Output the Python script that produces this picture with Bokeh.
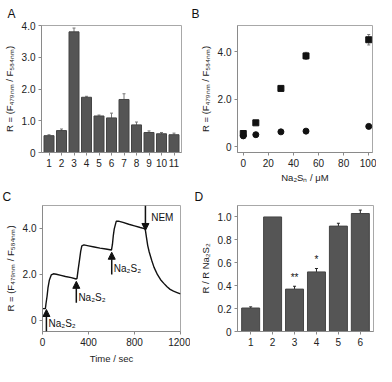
from bokeh.plotting import figure
from bokeh.layouts import row, column
from bokeh.models import (FixedTicker, ColumnDataSource, Whisker, Label, Arrow,
                          NormalHead, TeeHead, Range1d)
from bokeh.embed import file_html
from bokeh.resources import INLINE

FONT = "Liberation Sans"
BAR = "#555555"

# ---------------- data ----------------
# Panel A
a_cats = [1, 2, 3, 4, 5, 6, 7, 8, 9, 10, 11]
a_vals = [0.53, 0.69, 3.80, 1.74, 1.15, 1.09, 1.67, 0.87, 0.63, 0.59, 0.56]
a_errs = [0.03, 0.05, 0.12, 0.03, 0.03, 0.15, 0.18, 0.09, 0.05, 0.04, 0.05]

# Panel B
b_conc = [0, 10, 30, 50, 100]
b_sq = [0.55, 1.00, 2.45, 3.82, 4.50]
b_sq_err = [0.08, 0.05, 0.08, 0.15, 0.22]
b_ci = [0.45, 0.50, 0.62, 0.65, 0.85]

# Panel C
c_time = [0, 25, 30, 40, 48, 60, 76, 95, 120, 160, 200, 250, 293, 300, 310, 322,
          332, 342, 360, 400, 450, 500, 550, 600, 608, 616, 624, 641, 660, 700,
          750, 800, 850, 893, 905, 915, 928, 950, 970, 1000, 1027, 1055, 1083,
          1110, 1139, 1170, 1200]
c_ratio = [0.50, 0.50, 0.70, 1.05, 1.42, 1.75, 1.97, 2.02, 2.00, 1.95, 1.90, 1.85,
           1.79, 1.82, 2.20, 2.63, 3.00, 3.24, 3.28, 3.24, 3.19, 3.14, 3.10, 3.06,
           3.30, 3.70, 3.98, 4.31, 4.32, 4.26, 4.18, 4.11, 4.04, 3.98, 3.58, 3.25,
           2.97, 2.60, 2.30, 1.98, 1.76, 1.60, 1.45, 1.34, 1.26, 1.20, 1.14]
c_add_times = [34, 294, 602]
c_add_labels = ["Na₂S₂", "Na₂S₂", "Na₂S₂"]
c_nem_time = 895
c_nem_label = "NEM"

# Panel D
d_cats = [1, 2, 3, 4, 5, 6]
d_vals = [0.205, 1.00, 0.37, 0.52, 0.92, 1.03]
d_errs = [0.01, 0.0, 0.025, 0.03, 0.025, 0.03]
d_sig = ["", "", "**", "*", "", ""]

R_LABEL = "R = (F₄₇₉ₙₘ / F₅₈₄ₙₘ)"


def style(p, letter, offset, standoff):
    p.toolbar_location = None
    p.xgrid.visible = False
    p.ygrid.visible = False
    p.outline_line_color = "#a8a8a8"
    p.background_fill_color = "white"
    p.border_fill_color = "white"
    p.title.text = letter
    p.title.align = "left"
    p.title.offset = offset
    p.title.standoff = standoff
    p.title.text_font = FONT
    p.title.text_font_size = "12px"
    p.title.text_font_style = "normal"
    p.title.text_color = "#111111"
    for ax in (p.xaxis[0], p.yaxis[0]):
        ax.axis_line_color = "#8a8a8a"
        ax.major_tick_line_color = "#8a8a8a"
        ax.minor_tick_line_color = None
        ax.major_tick_in = 0
        ax.major_tick_out = 3
        ax.major_label_text_font = FONT
        ax.major_label_text_font_size = "10px"
        ax.major_label_text_color = "#222222"
        ax.major_label_standoff = 3
        ax.axis_label_text_font = FONT
        ax.axis_label_text_font_size = "9.5px"
        ax.axis_label_text_font_style = "normal"
        ax.axis_label_text_color = "#222222"
        ax.axis_label_standoff = 4


def err_source(xs, vals, errs):
    keep = [i for i, e in enumerate(errs) if e > 0]
    return ColumnDataSource(dict(x=[xs[i] for i in keep],
                                 lo=[vals[i] - errs[i] for i in keep],
                                 hi=[vals[i] + errs[i] for i in keep]))


def whisker(src, color):
    return Whisker(base="x", lower="lo", upper="hi", source=src, line_color=color,
                   line_width=1,
                   upper_head=TeeHead(size=3, line_color=color),
                   lower_head=TeeHead(size=3, line_color=color))


# ---------------- Panel A ----------------
pA = figure(width=190, height=185, output_backend="svg", toolbar_location=None,
            x_range=Range1d(0.4, 11.6), y_range=Range1d(0, 4.0),
            min_border_left=36, min_border_right=9, min_border_top=24, min_border_bottom=30)
pA.vbar(x=a_cats, top=a_vals, width=0.8, fill_color=BAR, line_color="#444444")
pA.add_layout(whisker(err_source(a_cats, a_vals, a_errs), "#777777"))
style(pA, "A", -34, 9)
pA.xaxis.ticker = FixedTicker(ticks=a_cats)
pA.yaxis.ticker = FixedTicker(ticks=[0, 1, 2, 3, 4])
pA.yaxis.major_label_overrides = {0: "0", 1: "1.0", 2: "2.0", 3: "3.0", 4: "4.0"}
pA.yaxis.axis_label = R_LABEL

# ---------------- Panel B ----------------
pB = figure(width=186, height=185, output_backend="svg", toolbar_location=None,
            x_range=Range1d(-4.6, 103), y_range=Range1d(-0.25, 5.1),
            min_border_left=47, min_border_right=4, min_border_top=24, min_border_bottom=30)
pB.add_layout(whisker(err_source(b_conc, b_sq, b_sq_err), "#777777"))
pB.scatter(x=b_conc, y=b_sq, marker="square", size=6, color="#111111")
pB.scatter(x=b_conc, y=b_ci, marker="circle", size=6, color="#111111")
style(pB, "B", -46, 9)
pB.xaxis.ticker = FixedTicker(ticks=[0, 20, 40, 60, 80, 100])
pB.yaxis.ticker = FixedTicker(ticks=[0, 2, 4])
pB.yaxis.major_label_overrides = {0: "0", 2: "2.0", 4: "4.0"}
pB.yaxis.axis_label = R_LABEL
pB.xaxis.axis_label = "Na₂Sₙ / μM"
pB.xaxis.axis_label_standoff = 2

# ---------------- Panel C ----------------
pC = figure(width=190, height=181, output_backend="svg", toolbar_location=None,
            x_range=Range1d(0, 1200), y_range=Range1d(-0.5, 5.0),
            min_border_left=42, min_border_right=10, min_border_top=18, min_border_bottom=32)
pC.line(c_time, c_ratio, line_color="#111111", line_width=1.4)
style(pC, "C", -40, 4)
pC.xaxis.ticker = FixedTicker(ticks=[0, 400, 800, 1200])
pC.yaxis.ticker = FixedTicker(ticks=[0, 2, 4])
pC.yaxis.major_label_overrides = {0: "0", 2: "2.0", 4: "4.0"}
pC.yaxis.axis_label = R_LABEL
pC.xaxis.axis_label = "Time / sec"
add_y = [(-0.5, 0.46, -0.16), (0.75, 1.69, 1.0), (1.99, 2.96, 2.27)]
for t, lab, (y0, y1, ly) in zip(c_add_times, c_add_labels, add_y):
    pC.add_layout(Arrow(x_start=t, y_start=y0, x_end=t, y_end=y1, line_width=1.5,
                        line_color="#111111",
                        end=NormalHead(size=7, fill_color="#111111", line_color="#111111")))
    pC.add_layout(Label(x=t + 18, y=ly, text=lab, text_font=FONT, text_font_size="10px",
                        text_baseline="middle", text_color="#111111"))
pC.add_layout(Arrow(x_start=c_nem_time, y_start=5.0, x_end=c_nem_time, y_end=3.91,
                    line_width=1.5, line_color="#111111",
                    end=NormalHead(size=7, fill_color="#111111", line_color="#111111")))
pC.add_layout(Label(x=c_nem_time + 50, y=4.49, text=c_nem_label, text_font=FONT,
                    text_font_size="10px", text_baseline="middle", text_color="#111111"))

# ---------------- Panel D ----------------
pD = figure(width=186, height=181, output_backend="svg", toolbar_location=None,
            x_range=Range1d(0.4, 6.6), y_range=Range1d(0, 1.1),
            min_border_left=47, min_border_right=3, min_border_top=20, min_border_bottom=32)
pD.vbar(x=d_cats, top=d_vals, width=0.82, fill_color=BAR, line_color="#444444")
pD.add_layout(whisker(err_source(d_cats, d_vals, d_errs), "#222222"))
srcS = ColumnDataSource(dict(x=d_cats, sig=d_sig,
                             sy=[v + e + 0.03 for v, e in zip(d_vals, d_errs)]))
pD.text(x="x", y="sy", text="sig", source=srcS, text_align="center",
        text_baseline="bottom", text_font_size="10px", text_color="#111111")
style(pD, "D", -43, 4)
pD.xaxis.ticker = FixedTicker(ticks=d_cats)
pD.yaxis.ticker = FixedTicker(ticks=[0, 0.2, 0.4, 0.6, 0.8, 1.0])
pD.yaxis.major_label_overrides = {0: "0", 0.2: "0.2", 0.4: "0.4", 0.6: "0.6",
                                  0.8: "0.8", 1.0: "1.0"}
pD.yaxis.axis_label = "R / R Na₂S₂"

layout = column(row(pA, pB), row(pC, pD))
open("out.html", "w").write(file_html(layout, INLINE))
